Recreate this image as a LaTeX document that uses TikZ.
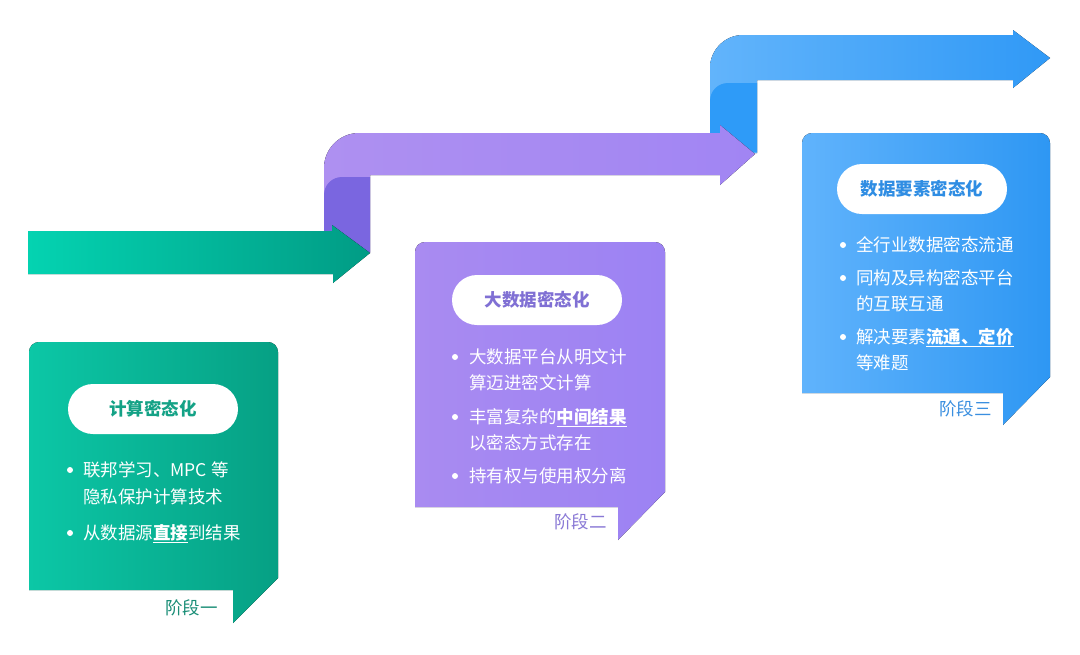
\documentclass[tikz,border=0pt]{standalone}
\usepackage{fontspec}
\setmainfont{Noto Sans CJK SC}
\usetikzlibrary{positioning}

\definecolor{tealL}{HTML}{04D3B1}
\definecolor{tealD}{HTML}{019C85}
\definecolor{tealBoxL}{HTML}{0CC7A6}
\definecolor{tealBoxD}{HTML}{06A084}
\definecolor{tealText}{HTML}{14A286}
\definecolor{tealStage}{HTML}{1A8E77}
\definecolor{violetL}{HTML}{AE90F1}
\definecolor{violetM}{HTML}{A185F3}
\definecolor{violetD}{HTML}{7A66E0}
\definecolor{violetBoxL}{HTML}{A98BF1}
\definecolor{violetBoxD}{HTML}{9C82F3}
\definecolor{violetText}{HTML}{8070D4}
\definecolor{violetStage}{HTML}{8A79D6}
\definecolor{azureL}{HTML}{62B4FB}
\definecolor{azureM}{HTML}{3099F6}
\definecolor{azureD}{HTML}{2E9BF8}
\definecolor{azureBoxL}{HTML}{60B3FC}
\definecolor{azureBoxD}{HTML}{2E97F3}
\definecolor{azureText}{HTML}{2F8DE3}
\definecolor{azureStage}{HTML}{3A8FE0}

% underlined bold key words
\newcommand\keyword[1]{\setbox0\hbox{\bfseries #1}\rlap{\rule[-3.5pt]{\wd0}{1.4pt}}\box0}
% box with a folded tab at the bottom right
\newcommand\tabbox[8]{%
  \fill[#1] (#2,#5) -- (#2,#3+10) .. controls (#2,#3+4.5) and (#2+4.5,#3) .. (#2+10,#3)
    -- (#4-10,#3) .. controls (#4-4.5,#3) and (#4,#3+4.5) .. (#4,#3+10)
    -- (#4,#8) -- (#6,#7) -- (#6,#5) -- cycle;}

\tikzset{
  titlepill/.style={fill=white,rounded corners=25pt,minimum width=170pt,minimum height=50pt,
    text height=15pt,text depth=2pt,font=\fontsize{17.5pt}{27pt}\selectfont\bfseries},
  itemline/.style={anchor=west,inner sep=0pt,text height=15pt,text depth=2pt,text=white},
  bulletdot/.style={circle,fill=white,inner sep=0pt,minimum size=6pt},
  stagelabel/.style={anchor=east,inner sep=0pt,text height=15pt,text depth=2pt}
}

\begin{document}
\begin{tikzpicture}[x=1pt,y=-1pt,every node/.append style={font=\fontsize{17.5pt}{27pt}\selectfont}]
	\fill[white] (0,0) rectangle (1080,654);
	\useasboundingbox (0,0) rectangle (1080,654);

	% ribbons
	\fill[left color=azureL,right color=azureM] (710,153) -- (710,68) .. controls (710,49.8) and (724.8,35) .. (743,35)
		-- (1013,35) -- (1013,30) -- (1050,58) -- (1013,88) -- (1013,80) -- (757,80) -- (757,153) -- cycle;
	\fill[azureD] (710,152) -- (710,101) .. controls (710,91) and (718,83) .. (728,83) -- (757,83) -- (757,152) -- cycle;
	\fill[left color=violetL,right color=violetM] (324,253) -- (324,168) .. controls (324,148.7) and (339.7,133) .. (359,133)
		-- (720,133) -- (720,125) -- (755,154) -- (720,185) -- (720,175) -- (370,175) -- (370,253) -- cycle;
	\fill[violetD] (324,252) -- (324,195) .. controls (324,185) and (332,177) .. (342,177) -- (370,177) -- (370,252) -- cycle;
	\fill[left color=tealL,right color=tealD] (28,231) -- (332,231) -- (332,225) -- (370,253) -- (333,283) -- (333,274) -- (28,274) -- cycle;

	% boxes
	\tabbox{left color=tealBoxL,right color=tealBoxD}{29}{342}{278}{590}{233}{623}{578}
	\tabbox{left color=violetBoxL,right color=violetBoxD}{415}{242}{665}{507}{618}{540}{492}
	\tabbox{left color=azureBoxL,right color=azureBoxD}{802}{133}{1050}{393}{1003}{425}{377}

	% stage one
	\node[titlepill,text=tealText] (title-one) at (153,409) {计算密态化};
	\node[bulletdot] (dot-one-a) at (70,470) {};
	\node[itemline] (one-a1) at (83,470) {联邦学习、MPC 等};
	\node[itemline] (one-a2) at (83,497) {隐私保护计算技术};
	\node[bulletdot] (dot-one-b) at (70,533) {};
	\node[itemline] (one-b1) at (83,533) {从数据源\keyword{直接}到结果};
	\node[stagelabel,text=tealStage] (stage-one) at (218,608) {阶段一};

	% stage two
	\node[titlepill,text=violetText] (title-two) at (537,300) {大数据密态化};
	\node[bulletdot] (dot-two-a) at (455,357) {};
	\node[itemline] (two-a1) at (469,357) {大数据平台从明文计};
	\node[itemline] (two-a2) at (469,383) {算迈进密文计算};
	\node[bulletdot] (dot-two-b) at (455,417) {};
	\node[itemline] (two-b1) at (469,417) {丰富复杂的\keyword{中间结果}};
	\node[itemline] (two-b2) at (469,443) {以密态方式存在};
	\node[bulletdot] (dot-two-c) at (455,476) {};
	\node[itemline] (two-c1) at (469,476) {持有权与使用权分离};
	\node[stagelabel,text=violetStage] (stage-two) at (607,522) {阶段二};

	% stage three
	\node[titlepill,text=azureText] (title-three) at (922,189) {数据要素密态化};
	\node[bulletdot] (dot-three-a) at (843,245) {};
	\node[itemline] (three-a1) at (856,245) {全行业数据密态流通};
	\node[bulletdot] (dot-three-b) at (843,278) {};
	\node[itemline] (three-b1) at (856,278) {同构及异构密态平台};
	\node[itemline] (three-b2) at (856,304) {的互联互通};
	\node[bulletdot] (dot-three-c) at (843,337) {};
	\node[itemline] (three-c1) at (856,337) {解决要素\keyword{流通、定价}};
	\node[itemline] (three-c2) at (856,363) {等难题};
	\node[stagelabel,text=azureStage] (stage-three) at (992,409) {阶段三};
\end{tikzpicture}
\end{document}
